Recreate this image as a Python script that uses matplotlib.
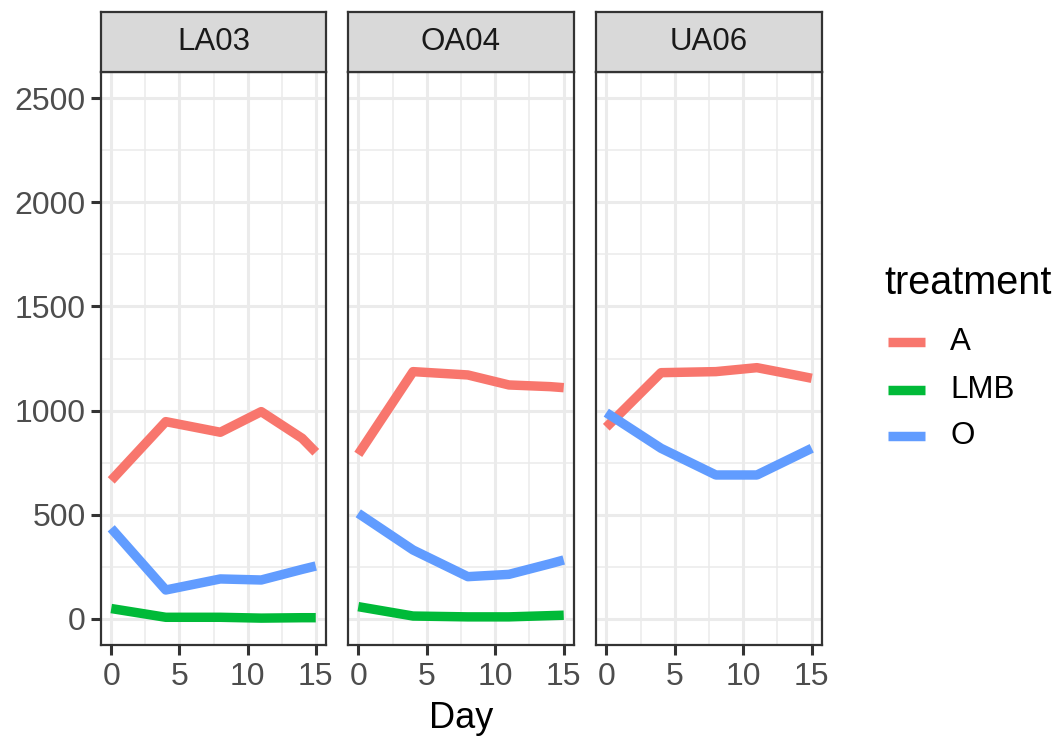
import matplotlib.pyplot as plt
import numpy as np

plt.rcParams['font.family'] = ['Liberation Sans', 'DejaVu Sans']

days = [0, 4, 8, 11, 14, 15]
sites = ["LA03", "OA04", "UA06"]
treatments = ["A", "LMB", "O"]
colors = {"A": "#F8766D", "LMB": "#00BA38", "O": "#619CFF"}

la03_a = [665, 947, 896, 995, 867, 800]
la03_lmb = [50, 8, 8, 4, 6, 6]
la03_o = [435, 139, 192, 187, 238, 254]

oa04_a = [790, 1187, 1171, 1123, 1115, 1110]
oa04_lmb = [59, 14, 10, 10, 16, 18]
oa04_o = [507, 331, 203, 214, 265, 283]

ua06_a = [920, 1182, 1187, 1206, 1168, 1155]
ua06_o = [990, 819, 691, 691, 787, 819]

values = {
    "LA03": {"A": la03_a, "LMB": la03_lmb, "O": la03_o},
    "OA04": {"A": oa04_a, "LMB": oa04_lmb, "O": oa04_o},
    "UA06": {"A": ua06_a, "O": ua06_o},
}

W, H = 1058, 738
fig = plt.figure(figsize=(W / 100, H / 100), dpi=100)

def box(x0, y0, x1, y1):
    return [x0 / W, 1 - y1 / H, (x1 - x0) / W, (y1 - y0) / H]

panel_x = [(101, 326), (348, 574), (596, 822)]
top, strip_top, bottom = 72, 12, 645
edge = "#333333"

for i, site in enumerate(sites):
    x0, x1 = panel_x[i]
    ax = fig.add_axes(box(x0, top, x1, bottom))
    ax.set_xlim(-0.75, 15.75)
    ax.set_ylim(-125, 2625)
    ax.set_xticks([0, 5, 10, 15])
    ax.set_xticks([2.5, 7.5, 12.5], minor=True)
    ax.set_yticks([0, 500, 1000, 1500, 2000, 2500])
    ax.set_yticks(np.arange(250, 2500, 500), minor=True)
    ax.grid(True, which="major", color="#EBEBEB", linewidth=2.2)
    ax.grid(True, which="minor", color="#EBEBEB", linewidth=1.1)
    ax.set_axisbelow(True)
    for sp in ax.spines.values():
        sp.set_color(edge)
        sp.set_linewidth(1.6)
    ax.tick_params(which="major", length=7, width=2.2, color=edge,
                   labelsize=23, labelcolor="#4D4D4D", pad=4)
    ax.tick_params(axis="x", pad=5)
    ax.tick_params(which="minor", length=0)
    if i > 0:
        ax.tick_params(axis="y", labelleft=False, length=0)
    for t in treatments:
        if t in values[site]:
            ax.plot(days, values[site][t], color=colors[t], linewidth=6.8,
                    solid_capstyle="butt", solid_joinstyle="round", label=t)

    sax = fig.add_axes(box(x0, strip_top, x1, top))
    sax.set_facecolor("#D9D9D9")
    sax.set_xticks([])
    sax.set_yticks([])
    for sp in sax.spines.values():
        sp.set_color(edge)
        sp.set_linewidth(1.6)
    sax.text(0.5, 0.5, site, ha="center", va="center", fontsize=22.5,
             color="#1A1A1A", transform=sax.transAxes)

fig.text((panel_x[0][0] + panel_x[2][1]) / 2 / W, 1 - 718 / H, "Day",
         ha="center", va="center", fontsize=26, color="black")

# legend
fig.text(884 / W, 1 - 283 / H, "treatment", ha="left", va="center",
         fontsize=28.5, color="black")
for t, yk in zip(treatments, [342, 390, 436]):
    fig.add_artist(plt.Line2D([888 / W, 925 / W], [1 - yk / H, 1 - yk / H],
                              color=colors[t], linewidth=6.8,
                              solid_capstyle="butt"))
    fig.text(950 / W, 1 - yk / H, t, ha="left", va="center", fontsize=22.5,
             color="black")

fig.savefig("out.png", dpi=100)
